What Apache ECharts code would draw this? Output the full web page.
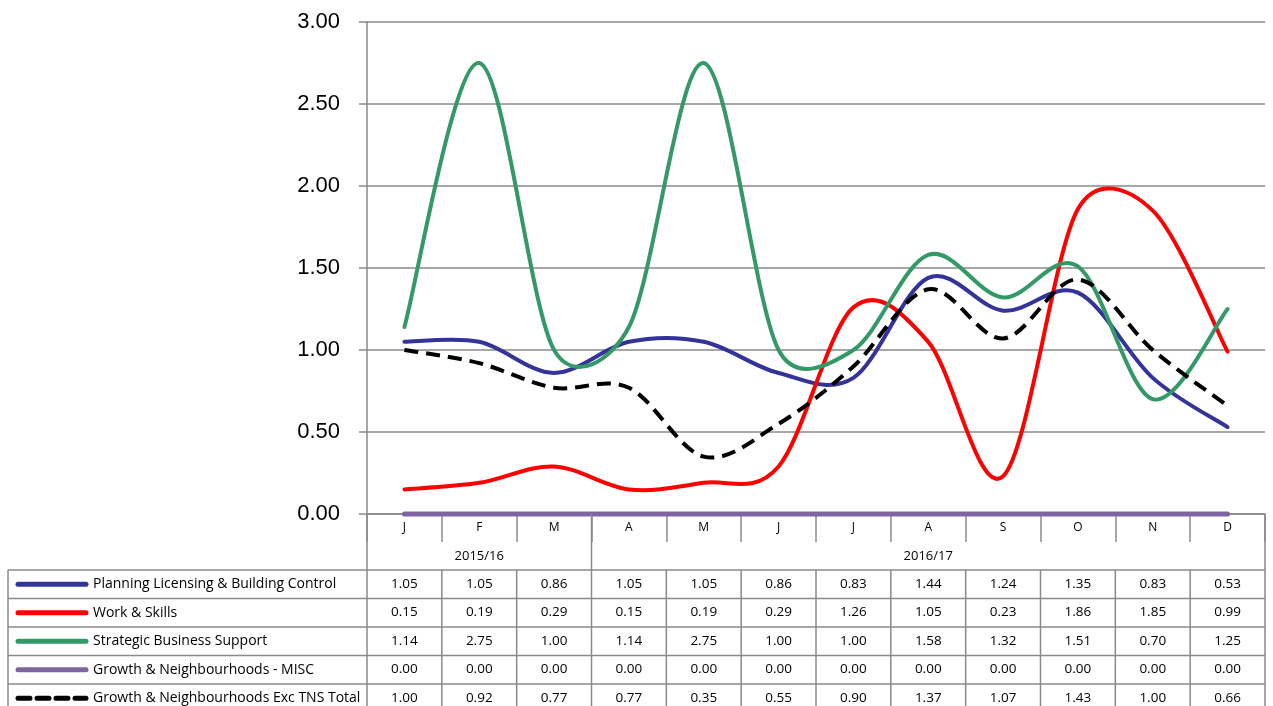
<!DOCTYPE html>
<html>
<head>
<meta charset="utf-8">
<script src="https://cdn.jsdelivr.net/npm/echarts@6/dist/echarts.min.js"></script>
<style>
html,body{margin:0;padding:0;background:#fff;}
#chart{width:1273px;height:706px;}
</style>
</head>
<body>
<div id="chart"></div>
<script>
// ---- data ----
const months = ['J','F','M','A','M','J','J','A','S','O','N','D'];
const yearLabels = ['', '2015/16', '', '', '', '', '', '2016/17', '', '', '', ''];
const yTicks = [0, 0.5, 1, 1.5, 2, 2.5, 3];
const seriesNames = [
  'Planning Licensing & Building Control',
  'Work & Skills',
  'Strategic Business Support',
  'Growth & Neighbourhoods - MISC',
  'Growth & Neighbourhoods Exc TNS Total'
];
const planning = [1.05, 1.05, 0.86, 1.05, 1.05, 0.86, 0.83, 1.44, 1.24, 1.35, 0.83, 0.53];
const workSkills = [0.15, 0.19, 0.29, 0.15, 0.19, 0.29, 1.26, 1.05, 0.23, 1.86, 1.85, 0.99];
const strategic = [1.14, 2.75, 1.00, 1.14, 2.75, 1.00, 1.00, 1.58, 1.32, 1.51, 0.70, 1.25];
const misc = [0.00, 0.00, 0.00, 0.00, 0.00, 0.00, 0.00, 0.00, 0.00, 0.00, 0.00, 0.00];
const excTns = [1.00, 0.92, 0.77, 0.77, 0.35, 0.55, 0.90, 1.37, 1.07, 1.43, 1.00, 0.66];

// ---- layout / style ----
const W = 1273, H = 706;
const GL = 367, GR = 8, GT = 22, GB = 192;
const plotRight = W - GR;
const axisY = H - GB;              // 514
const rowTop = 570, rowH = 28.5;
const tableLeft = 8;
const FONT = 'Liberation Sans';
const TFONT = 'Open Sans';
const GRID_COLOR = '#8a8a8a';
const colors = ['#333399', '#ff0000', '#339966', '#8064a2', '#000000'];
const allData = [planning, workSkills, strategic, misc, excTns];

// Excel-style smoothed Bezier path through pixel points
function smoothPath(pts) {
  const n = pts.length;
  const dist = (a, b) => Math.hypot(b[0] - a[0], b[1] - a[1]);
  let d = 'M' + pts[0][0] + ',' + pts[0][1];
  for (let i = 0; i < n - 1; i++) {
    const p0 = pts[Math.max(i - 1, 0)], p1 = pts[i], p2 = pts[i + 1], p3 = pts[Math.min(i + 2, n - 1)];
    const d12 = dist(p1, p2), d02 = dist(p0, p2), d13 = dist(p1, p3);
    let f1 = 1 / 6, f2 = 1 / 6;
    if (d02 / 6 >= d12 / 2 && d02 > 0) f1 = d12 / d02 / 2;
    if (d13 / 6 >= d12 / 2 && d13 > 0) f2 = d12 / d13 / 2;
    const c1x = p1[0] + (p2[0] - p0[0]) * f1, c1y = p1[1] + (p2[1] - p0[1]) * f1;
    const c2x = p2[0] - (p3[0] - p1[0]) * f2, c2y = p2[1] - (p3[1] - p1[1]) * f2;
    d += ' C' + c1x + ',' + c1y + ' ' + c2x + ',' + c2y + ' ' + p2[0] + ',' + p2[1];
  }
  return d;
}

const chart = echarts.init(document.getElementById('chart'), null, {renderer: 'canvas'});

const xAxes = [
  {
    type: 'category', data: months, gridIndex: 0, position: 'bottom', boundaryGap: true,
    axisLine: {show: true, lineStyle: {color: GRID_COLOR, width: 1.5}},
    axisTick: {show: true, interval: 0, length: 28, lineStyle: {color: GRID_COLOR, width: 1.5}},
    axisLabel: {interval: 0, fontFamily: TFONT, fontSize: 12, color: '#000', margin: 8}
  },
  {
    type: 'category', data: yearLabels, gridIndex: 0, position: 'bottom', offset: 31,
    axisLine: {show: false}, axisTick: {show: false},
    axisLabel: {interval: 0, fontFamily: TFONT, fontSize: 13, color: '#000', margin: 5}
  }
];
allData.forEach((arr, k) => {
  xAxes.push({
    type: 'category', data: arr.map(v => v.toFixed(2)), gridIndex: 0, position: 'bottom',
    offset: (rowTop - axisY) + rowH * k,
    axisLine: {show: false}, axisTick: {show: false},
    axisLabel: {interval: 0, fontFamily: TFONT, fontSize: 13.5, color: '#000', margin: 7}
  });
});

const series = allData.map((arr, k) => ({
  name: seriesNames[k],
  type: 'custom',
  coordinateSystem: 'cartesian2d',
  xAxisIndex: 0,
  yAxisIndex: 0,
  silent: true,
  z: 3 + k,
  data: arr.map((v, i) => [i, v]),
  encode: {x: 0, y: 1},
  renderItem: function (params, api) {
    if (params.dataIndex !== 0) return null;
    const pts = arr.map((v, i) => api.coord([i, v]));
    return {
      type: 'path',
      shape: {pathData: k === 3 ? ('M' + pts[0][0] + ',' + pts[0][1] + ' L' + pts[pts.length - 1][0] + ',' + pts[pts.length - 1][1]) : smoothPath(pts)},
      style: {
        fill: 'none',
        stroke: colors[k],
        lineWidth: k === 3 ? 5 : 4,
        lineDash: k === 4 ? [14, 8] : null,
        lineCap: k === 4 ? 'butt' : 'round',
        lineJoin: 'round'
      }
    };
  },
  animation: false
}));

// table graphics
const graphics = [];
const colW = (plotRight - GL) / months.length;
const line = (x1, y1, x2, y2, color, width, extra) => Object.assign({
  type: 'line', silent: true, z: 10,
  shape: {x1, y1, x2, y2},
  style: Object.assign({stroke: color, lineWidth: width}, extra || {})
});
for (let k = 0; k < allData.length; k++) {
  const y = rowTop + rowH * k;
  graphics.push(line(tableLeft, y, plotRight, y, GRID_COLOR, 1.5));
}
graphics.push(line(tableLeft, rowTop, tableLeft, H, GRID_COLOR, 1.5));
graphics.push(line(GL, axisY, GL, H, GRID_COLOR, 1.5));
graphics.push(line(plotRight, axisY, plotRight, H, GRID_COLOR, 1.5));
for (let i = 1; i < months.length; i++) {
  const x = GL + colW * i;
  graphics.push(line(x, i === 3 ? axisY : rowTop, x, H, GRID_COLOR, 1.5));
}
// legend keys + names
allData.forEach((arr, k) => {
  const yc = rowTop + rowH * k + rowH / 2;
  if (k === 4) {
    graphics.push(line(18, yc, 86, yc, colors[k], 5, {lineDash: [12, 7], lineCap: 'round'}));
  } else {
    graphics.push(line(18, yc, 86, yc, colors[k], 5, {lineCap: 'round'}));
  }
  graphics.push({
    type: 'text', silent: true, z: 10, x: 93, y: yc,
    style: {text: seriesNames[k], fontFamily: TFONT, fontSize: 14, fill: '#000', verticalAlign: 'middle', align: 'left'}
  });
});

chart.setOption({
  animation: false,
  backgroundColor: '#fff',
  grid: {left: GL, right: GR, top: GT, bottom: GB, containLabel: false},
  xAxis: xAxes,
  yAxis: {
    type: 'value', min: yTicks[0], max: yTicks[yTicks.length - 1], interval: 0.5,
    axisLine: {show: true, lineStyle: {color: GRID_COLOR, width: 1.5}},
    axisTick: {show: true, length: 8, lineStyle: {color: GRID_COLOR, width: 1.5}},
    axisLabel: {fontFamily: FONT, fontSize: 22, color: '#000', margin: 27, formatter: v => v.toFixed(2)},
    splitLine: {show: true, lineStyle: {color: GRID_COLOR, width: 1.5}}
  },
  series: series,
  graphic: graphics
});
</script>
</body>
</html>
